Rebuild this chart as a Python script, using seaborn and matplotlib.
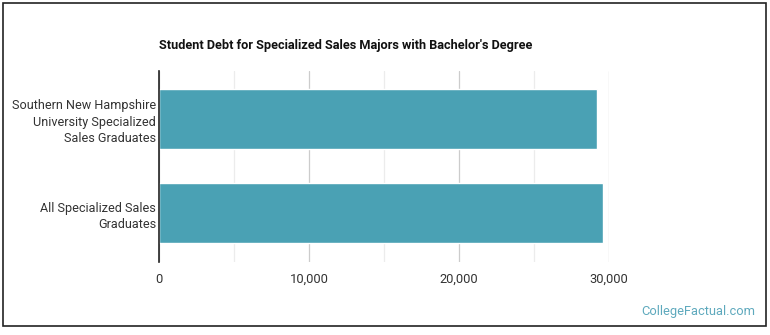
import matplotlib
matplotlib.use("Agg")
import matplotlib.pyplot as plt
import matplotlib.patches as patches
import pandas as pd
import seaborn as sns

groups = ["Southern New Hampshire\nUniversity Specialized\nSales Graduates",
          "All Specialized Sales\nGraduates"]
debt = [29200, 29600]
ticks = [0, 10000, 20000, 30000]
tick_labels = ["0", "10,000", "20,000", "30,000"]

sns.set_style("white")
plt.rcParams['font.family'] = ['Roboto', 'DejaVu Sans']

df = pd.DataFrame({"group": groups, "debt": debt})

fig = plt.figure(figsize=(7.7, 3.35), dpi=100)
ax = fig.add_axes([0.2065, 0.218, 0.5845, 0.570])

sns.barplot(data=df, y="group", x="debt", color="#4aa1b4", saturation=1,
            width=0.64, ax=ax, zorder=3)

ax.set_xlim(0, 30000)
ax.set_ylim(1.52, -0.51)
ax.set_xticks(ticks)
ax.set_xticklabels(tick_labels, fontsize=9.3, color="#333333")
ax.set_xticks([5000, 15000, 25000], minor=True)
ax.tick_params(axis="y", labelsize=9.1, labelcolor="#333333", length=0, pad=2)
for lbl in ax.get_yticklabels():
    lbl.set_linespacing(1.35)
ax.tick_params(axis="x", length=0, pad=8)
ax.grid(axis="x", which="major", color="#cccccc", linewidth=0.9, zorder=0)
ax.grid(axis="x", which="minor", color="#ececec", linewidth=0.9, zorder=0)
ax.set_xlabel("")
ax.set_ylabel("")
for s in ["top", "right", "bottom"]:
    ax.spines[s].set_visible(False)
ax.spines["left"].set_color("#222222")
ax.spines["left"].set_linewidth(1.2)
ax.spines["left"].set_zorder(4)

fig.text(159 / 770, 1 - 45 / 335, "Student Debt for Specialized Sales Majors with Bachelor's Degree",
         fontsize=9.15, fontweight="bold", color="#111111", va="center", ha="left")
fig.text(755 / 770, 1 - 312 / 335, "CollegeFactual.com", fontsize=9.3,
         color="#5ea9bd", ha="right", va="center")

fig.patches.append(patches.Rectangle((3 / 770, 1 - 326 / 335), 763 / 770, 323 / 335,
                                     transform=fig.transFigure, fill=False,
                                     edgecolor="#222222", linewidth=1.2))

fig.savefig("out.png", dpi=100)
